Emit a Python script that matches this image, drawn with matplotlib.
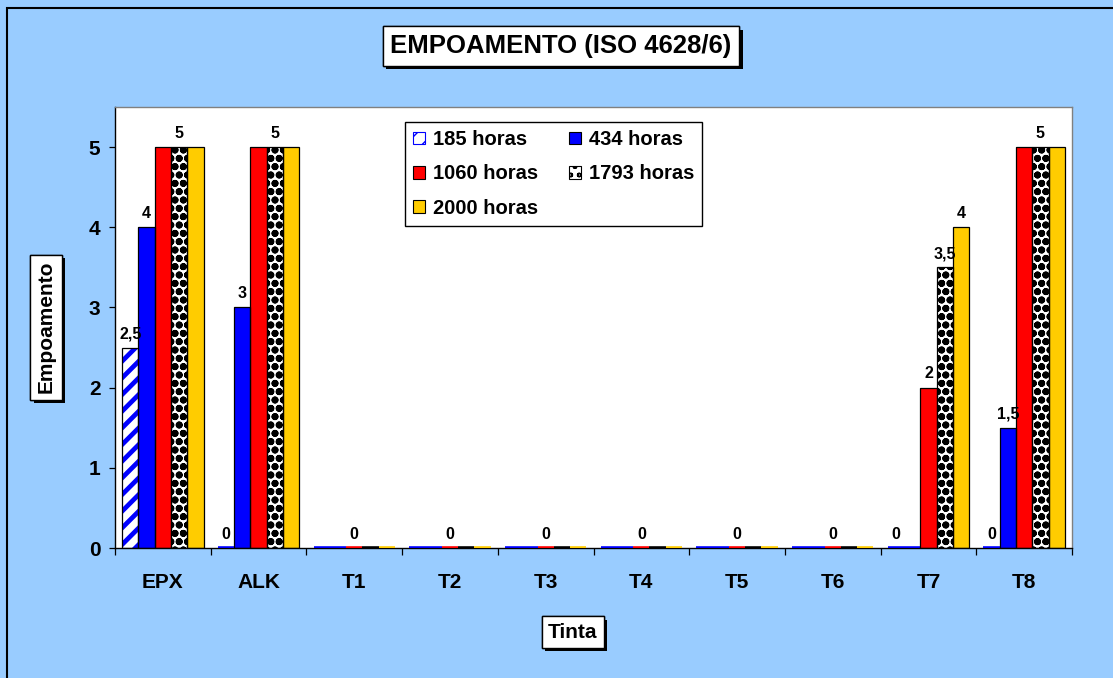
import matplotlib
matplotlib.use("Agg")
import matplotlib.pyplot as plt
import matplotlib.patheffects as pe
from matplotlib.patches import Rectangle, Patch
import numpy as np

plt.rcParams["font.family"] = ["Liberation Sans", "DejaVu Sans"]
plt.rcParams["font.weight"] = "bold"

# ---- data -------------------------------------------------------------
categories = ["EPX", "ALK", "T1", "T2", "T3", "T4", "T5", "T6", "T7", "T8"]
series_names = ["185 horas", "434 horas", "1060 horas", "1793 horas", "2000 horas"]
v185 = [2.5, 0, 0, 0, 0, 0, 0, 0, 0, 0]
v434 = [4, 3, 0, 0, 0, 0, 0, 0, 0, 1.5]
v1060 = [5, 5, 0, 0, 0, 0, 0, 0, 2, 5]
v1793 = [5, 5, 0, 0, 0, 0, 0, 0, 3.5, 5]
v2000 = [5, 5, 0, 0, 0, 0, 0, 0, 4, 5]
y_ticks = [0, 1, 2, 3, 4, 5]

# categories whose value is written above the bar, per series
labels185 = ["EPX", "ALK", "T7", "T8"]
labels434 = ["EPX", "ALK", "T8"]
labels1060 = ["T1", "T2", "T3", "T4", "T5", "T6", "T7"]
labels1793 = ["EPX", "ALK", "T7", "T8"]
labels2000 = ["T7"]

values = [v185, v434, v1060, v1793, v2000]
labelled = [labels185, labels434, labels1060, labels1793, labels2000]

# ---- styles -----------------------------------------------------------
BG = "#99CCFF"
styles = [
    dict(face="white", hatch="//", hcolor="#0000FF", hlw=3.4, zero="#0000FF"),
    dict(face="#0000FF", hatch=None, hcolor=None, hlw=1.0, zero="#0000FF"),
    dict(face="#FF0000", hatch=None, hcolor=None, hlw=1.0, zero="#FF0000"),
    dict(face="white", hatch="oo", hcolor="black", hlw=2.6, zero="black"),
    dict(face="#FFCC00", hatch=None, hcolor=None, hlw=1.0, zero="#FFCC00"),
]

W, H = 1113, 678
fig = plt.figure(figsize=(W / 100, H / 100), dpi=100, facecolor=BG)
ax = fig.add_axes([115 / W, 1 - 548 / H, (1072 - 115) / W, (548 - 107) / H])
ax.set_facecolor("white")

x = np.arange(len(categories))
bw = 0.17
offsets = (np.arange(5) - 2) * bw


def draw_series(i):
    st = styles[i]
    vals = np.array(values[i], dtype=float)
    pos = x + offsets[i]
    with plt.rc_context({"hatch.linewidth": st["hlw"]}):
        if st["hatch"]:
            fill = ax.bar(pos, vals, bw, color=st["face"], edgecolor=st["hcolor"],
                          hatch=st["hatch"], linewidth=0, zorder=2)
        else:
            fill = ax.bar(pos, vals, bw, color=st["face"], linewidth=0, zorder=2)
    outline = ax.bar(pos, vals, bw, fill=False, edgecolor="black",
                     linewidth=0.9, zorder=3)
    for rect, v in zip(outline, vals):
        if v == 0:
            rect.set_edgecolor(st["zero"])
            rect.set_linewidth(2.6)
    # value labels
    for cat in labelled[i]:
        k = categories.index(cat)
        v = vals[k]
        txt = ("%g" % v).replace(".", ",")
        ax.annotate(txt, (pos[k], v), xytext=(0, 4.5), textcoords="offset points",
                    ha="center", va="bottom", fontsize=11.5, fontweight="bold",
                    zorder=5)
    return fill


for i in range(5):
    draw_series(i)

ax.set_xlim(-0.5, len(categories) - 0.5)
ax.set_ylim(0, 5.5)

ax.set_yticks(y_ticks)
ax.set_yticklabels([str(t) for t in y_ticks], fontsize=15, fontweight="bold")
ax.tick_params(axis="y", length=4.5, width=0.9, pad=6, direction="out")

ax.set_xticks(x)
ax.set_xticklabels(categories, fontsize=15, fontweight="bold")
ax.set_xticks(np.arange(len(categories) + 1) - 0.5, minor=True)
ax.tick_params(axis="x", which="major", length=0, pad=18)
ax.tick_params(axis="x", which="minor", length=5, width=0.9, direction="out")

for s in ["left", "bottom"]:
    ax.spines[s].set_color("black")
    ax.spines[s].set_linewidth(1.0)
for s in ["top", "right"]:
    ax.spines[s].set_color("#808080")
    ax.spines[s].set_linewidth(1.0)

shadow = [pe.withSimplePatchShadow(offset=(2.5, -2.5), shadow_rgbFace="black", alpha=1.0),
          pe.Normal()]


def boxed(xp, yp, s, size, rot=0):
    t = fig.text(xp / W, 1 - yp / H, s, ha="center", va="center", rotation=rot,
                 fontsize=size, fontweight="bold",
                 bbox=dict(boxstyle="square,pad=0.3", facecolor="white",
                           edgecolor="black", linewidth=1.0))
    t.get_bbox_patch().set_path_effects(shadow)
    return t


boxed(561, 46, "EMPOAMENTO (ISO 4628/6)", 18.5)
boxed(46, 327, "Empoamento", 15, rot=90)
boxed(573, 632, "Tinta", 15)

# legend (row-wise order in two columns)
handles = []
with plt.rc_context({"hatch.linewidth": 2.0}):
    for i in range(5):
        st = styles[i]
        if st["hatch"]:
            handles.append(Patch(facecolor=st["face"], edgecolor=st["hcolor"],
                                 hatch=st["hatch"], linewidth=0.8))
        else:
            handles.append(Patch(facecolor=st["face"], edgecolor="black", linewidth=0.8))
order = [0, 2, 4, 1, 3]
leg = fig.legend([handles[k] for k in order], [series_names[k] for k in order],
                 ncol=2, loc="upper left", bbox_to_anchor=(405 / W, 1 - 122 / H),
                 prop=dict(size=14.5, weight="bold"), frameon=True, fancybox=False,
                 edgecolor="black", framealpha=1.0, handlelength=0.6,
                 handleheight=0.6, handletextpad=0.4, columnspacing=1.5,
                 labelspacing=0.76, borderpad=0.4, borderaxespad=0)
leg.get_frame().set_linewidth(1.0)

# outer frame of the chart area
fig.add_artist(Rectangle((7 / W, -0.1), 1.2, 1 - 8 / H + 0.1, transform=fig.transFigure,
                         fill=False, edgecolor="black", linewidth=1.5))

fig.savefig("out.png", dpi=100, facecolor=BG)
